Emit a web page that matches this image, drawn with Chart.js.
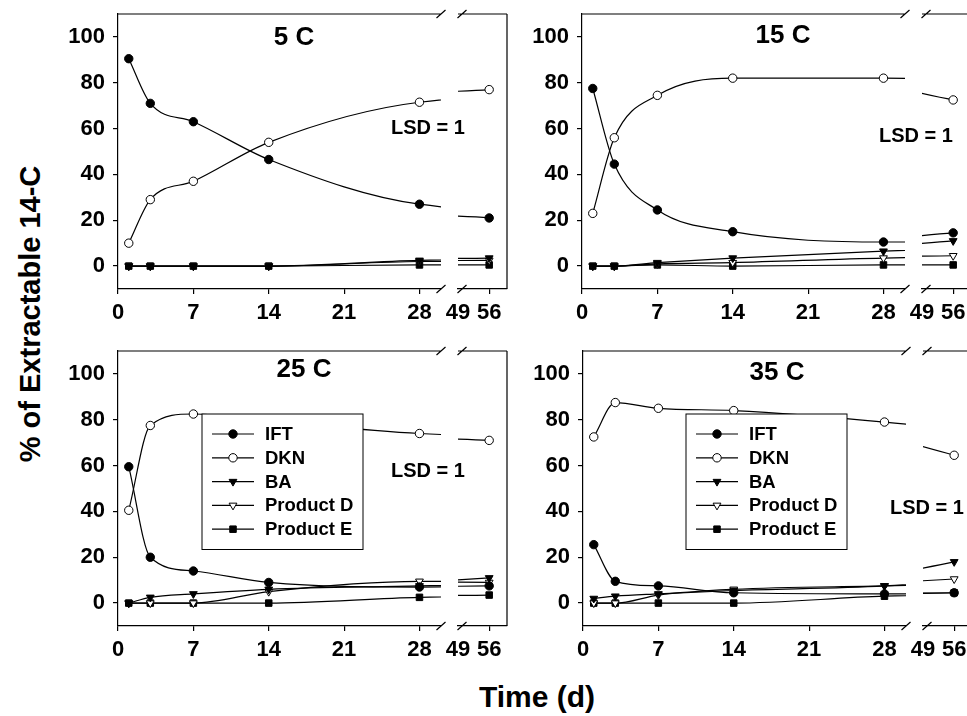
<!DOCTYPE html>
<html>
<head>
<meta charset="utf-8">
<script src="https://cdn.jsdelivr.net/npm/chart.js"></script>
<style>
  html, body { margin: 0; padding: 0; background: #fff; }
  body { width: 967px; height: 716px; position: relative; overflow: hidden; font-family: "Liberation Sans", Arial, sans-serif; }
  canvas { position: absolute; }
  .axis-title { position: absolute; font-weight: bold; color: #000; white-space: nowrap; line-height: 1; }
  #ytitle { left: 30px; top: 314px; font-size: 29px; transform: translate(-50%, -50%) rotate(-90deg); }
  #xtitle { left: 537px; top: 697px; font-size: 30px; transform: translate(-50%, -50%); }
</style>
</head>
<body>
<div class="axis-title" id="ytitle">% of Extractable 14-C</div>
<div class="axis-title" id="xtitle">Time (d)</div>
<script>
// sampling days and labels
const days = [1, 3, 7, 14, 28, 56];
const seriesNames = ['IFT', 'DKN', 'BA', 'Product D', 'Product E'];
const panelTitles = ['5 C', '15 C', '25 C', '35 C'];
const lsdLabel = 'LSD = 1';
const yTicks = [0, 20, 40, 60, 80, 100];
const xTicksMain = [0, 7, 14, 21, 28];
const xTicksTail = [49, 56];

// 5 C
const ift5   = [90.5, 71, 63, 46.5, 27, 21];
const dkn5   = [10, 29, 37, 54, 71.5, 77];
const ba5    = [0, 0, 0, 0, 2.5, 3.5];
const prodD5 = [0, 0, 0, 0, 2, 2.5];
const prodE5 = [0, 0, 0, 0, 0.5, 0.5];
// 15 C
const ift15   = [77.5, 44.5, 24.5, 15, 10.5, 14.5];
const dkn15   = [23, 56, 74.5, 82, 82, 72.5];
const ba15    = [0, 0, 1.5, 3.5, 6.5, 11];
const prodD15 = [0, 0, 1, 1.5, 3.5, 4.5];
const prodE15 = [0, 0, 0.5, 0, 0.5, 0.5];
// 25 C
const ift25   = [59.5, 20, 14, 9, 7, 7.5];
const dkn25   = [40.5, 77.5, 82.5, 79.5, 74, 71];
const ba25    = [0, 2.5, 4, 6, 7.5, 11];
const prodD25 = [0, 0, 0, 5, 9.5, 9];
const prodE25 = [0, 0, 0, 0, 2.5, 3.5];
// 35 C
const ift35   = [25.5, 9.5, 7.5, 4.5, 4, 4.5];
const dkn35   = [72.5, 87.5, 85, 84, 79, 64.5];
const ba35    = [2, 3, 4, 5.5, 7.5, 18];
const prodD35 = [0, 0, 3.5, 6, 7.5, 10.5];
const prodE35 = [0, 0, 0, 0, 3, 4.5];

const panelSeries = [
  [ift5, dkn5, ba5, prodD5, prodE5],
  [ift15, dkn15, ba15, prodD15, prodE15],
  [ift25, dkn25, ba25, prodD25, prodE25],
  [ift35, dkn35, ba35, prodD35, prodE35]
];

// layout (pixels)
const AXW = 60, AXH = 45, PADT = 6, PLOTH = 275;
const MAINW = 323, TAIL0 = 340, TAILW = 49, EXTRA = 400;
const panelLayout = [
  {left: 118, top: 14,  titleAt: [176, 24], lsdAt: [310, 114], legendAt: null},
  {left: 582, top: 14,  titleAt: [201, 22], lsdAt: [334, 122], legendAt: null},
  {left: 118, top: 351, titleAt: [186, 19], lsdAt: [310, 120], legendAt: [84, 63]},
  {left: 583, top: 351, titleAt: [194, 22], lsdAt: [344, 157], legendAt: [103, 63]}
];

const markers = [
  {style: 'circle',   fill: '#000', rot: 0,   r: 4.2},
  {style: 'circle',   fill: '#fff', rot: 0,   r: 4.2},
  {style: 'triangle', fill: '#000', rot: 180, r: 4.5},
  {style: 'triangle', fill: '#fff', rot: 180, r: 4.5},
  {style: 'rect',     fill: '#000', rot: 0,   r: 4.6}
];

const FONT = '"Liberation Sans", Arial, sans-serif';

// frame, break marks, titles and legend
const panelDeco = {
  id: 'panelDeco',
  afterDatasetsDraw(chart, args, o) {
    const ctx = chart.ctx, a = chart.chartArea;
    ctx.save();
    ctx.strokeStyle = '#000';
    ctx.lineWidth = 1.2;
    ctx.beginPath();
    ctx.moveTo(a.left, a.top); ctx.lineTo(a.right, a.top);
    if (o.part === 'tail') { ctx.moveTo(a.right, a.top); ctx.lineTo(a.right, a.bottom); }
    const bx = o.part === 'main' ? a.right : a.left + 4;
    [a.top, a.bottom].forEach(y => { ctx.moveTo(bx - 4.5, y + 4); ctx.lineTo(bx + 4.5, y - 4); });
    ctx.stroke();

    if (o.part === 'main') {
      ctx.fillStyle = '#000';
      ctx.textAlign = 'center';
      ctx.textBaseline = 'middle';
      ctx.font = 'bold 26px ' + FONT;
      ctx.fillText(o.title, a.left + o.titleAt[0], a.top + o.titleAt[1]);
      ctx.font = 'bold 20px ' + FONT;
      ctx.fillText(lsdLabel, a.left + o.lsdAt[0], a.top + o.lsdAt[1]);

      if (o.legendAt) {
        const bxl = a.left + o.legendAt[0], byt = a.top + o.legendAt[1];
        ctx.fillStyle = '#fff';
        ctx.fillRect(bxl, byt, 161, 135.5);
        ctx.lineWidth = 1;
        ctx.strokeRect(bxl, byt, 161, 135.5);
        chart.data.datasets.forEach((ds, i) => {
          const y = byt + 20 + i * 23.8;
          ctx.strokeStyle = '#000';
          ctx.lineWidth = 1.2;
          ctx.beginPath();
          ctx.moveTo(bxl + 10, y); ctx.lineTo(bxl + 52, y);
          ctx.stroke();
          ctx.fillStyle = ds.pointBackgroundColor;
          ctx.lineWidth = 1;
          Chart.helpers.drawPoint(ctx, {pointStyle: ds.pointStyle, rotation: ds.pointRotation,
            radius: ds.pointRadius, borderWidth: 1}, bxl + 31, y);
          ctx.fillStyle = '#000';
          ctx.textAlign = 'left';
          ctx.font = 'bold 18.5px ' + FONT;
          ctx.fillText(ds.label, bxl + 63, y + 1);
        });
      }
    }
    ctx.restore();
  }
};

function datasetsFor(series, part) {
  return series.map((vals, i) => ({
    label: seriesNames[i],
    data: days.map((d, j) => ({x: d, y: vals[j]})),
    borderColor: '#000',
    borderWidth: 1.2,
    cubicInterpolationMode: 'monotone',
    pointStyle: markers[i].style,
    pointRotation: markers[i].rot,
    pointRadius: markers[i].r,
    pointBackgroundColor: markers[i].fill,
    pointBorderColor: '#000',
    pointBorderWidth: 1,
    clip: part === 'main' ? {left: 8, top: 8, right: 0, bottom: 8} : {left: 0, top: 8, right: 8, bottom: 8}
  }));
}

function axisStyle(tickList) {
  return {
    type: 'linear',
    afterBuildTicks: s => { s.ticks = tickList.map(v => ({value: v})); },
    grid: {display: true, drawOnChartArea: false, drawTicks: true, tickLength: 5, color: '#000', lineWidth: 1.2},
    border: {display: true, color: '#000', width: 1.2},
    ticks: {color: '#000', font: {family: FONT, size: 22, weight: 'bold'}, padding: 6, maxRotation: 0, autoSkip: false}
  };
}

// fixed axis sizes, no automatic label padding
const fitX = s => { s.height = AXH; s.paddingLeft = 0; s.paddingRight = 0; s.paddingTop = 0; s.paddingBottom = 0; };
const fitY = s => { s.width = AXW; s.paddingTop = 0; s.paddingBottom = 0; s.paddingLeft = 0; s.paddingRight = 0; };

function addCanvas(left, top, w, h) {
  const c = document.createElement('canvas');
  c.width = w; c.height = h;
  c.style.left = left + 'px'; c.style.top = top + 'px';
  c.style.width = w + 'px'; c.style.height = h + 'px';
  document.body.appendChild(c);
  return c;
}

panelLayout.forEach((p, k) => {
  const h = PADT + PLOTH + AXH;

  // main segment (0-30 d)
  const xMain = axisStyle(xTicksMain);
  xMain.min = 0; xMain.max = 30;
  xMain.afterFit = fitX;
  const yAx = axisStyle(yTicks);
  yAx.min = -10; yAx.max = 110;
  yAx.afterFit = fitY;
  yAx.ticks.padding = 8;

  new Chart(addCanvas(p.left - AXW, p.top - PADT, AXW + EXTRA, h), {
    type: 'line',
    data: {datasets: datasetsFor(panelSeries[k], 'main')},
    options: {
      responsive: false, animation: false, devicePixelRatio: 1,
      layout: {autoPadding: false, padding: {top: PADT, right: EXTRA - MAINW, left: 0, bottom: 0}},
      scales: {x: xMain, y: yAx},
      plugins: {legend: {display: false}, tooltip: {enabled: false},
        panelDeco: {part: 'main', title: panelTitles[k], titleAt: p.titleAt, lsdAt: p.lsdAt, legendAt: p.legendAt}}
    },
    plugins: [panelDeco]
  });

  // tail segment (49-56 d)
  const xTail = axisStyle(xTicksTail);
  xTail.min = 49; xTail.max = 60;
  xTail.afterFit = fitX;
  xTail.grid.color = c => (c.tick && c.tick.value === 49) ? 'rgba(0,0,0,0)' : '#000';

  new Chart(addCanvas(p.left + TAIL0 - 20, p.top - PADT, 20 + TAILW + 20, h), {
    type: 'line',
    data: {datasets: datasetsFor(panelSeries[k], 'tail')},
    options: {
      responsive: false, animation: false, devicePixelRatio: 1,
      layout: {autoPadding: false, padding: {top: PADT, right: 20, left: 20, bottom: 0}},
      scales: {x: xTail, y: {type: 'linear', display: false, min: -10, max: 110}},
      plugins: {legend: {display: false}, tooltip: {enabled: false}, panelDeco: {part: 'tail'}}
    },
    plugins: [panelDeco]
  });
});
</script>
</body>
</html>
